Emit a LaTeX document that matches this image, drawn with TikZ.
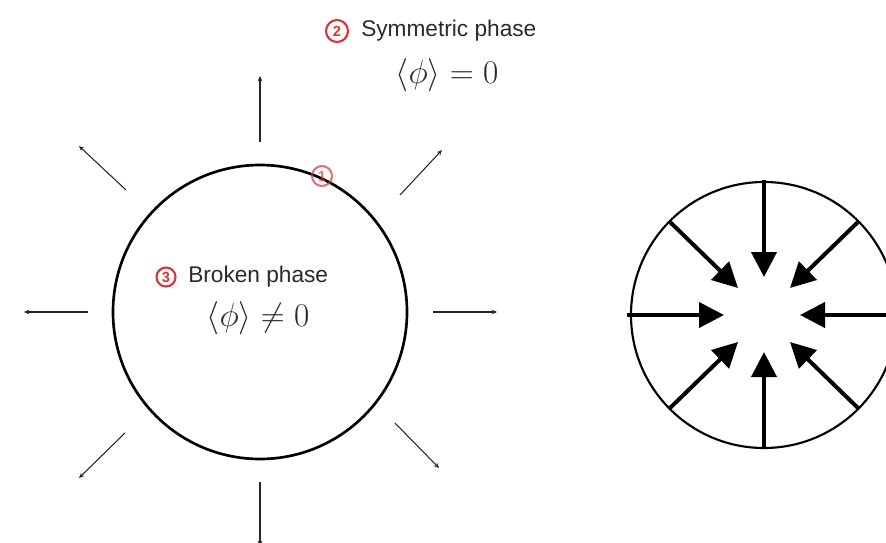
\documentclass[tikz,border=0pt]{standalone}
\usepackage{fontspec}
\newfontfamily\sansjp{Liberation Sans}
\usetikzlibrary{arrows.meta}
\definecolor{numred}{HTML}{D8343A}
\definecolor{txt}{HTML}{2A2A2A}
\begin{document}
\begin{tikzpicture}[x=0.75pt,y=-0.75pt,
  thinarrow/.style={line width=0.8pt, draw=black!85, -{Stealth[length=4pt,width=3.5pt]}},
  thickarrow/.style={line width=3pt, -{Triangle[length=18.75pt,width=18.75pt]}},
  numcirc/.style={circle, draw=numred, line width=1.6pt, text=numred, inner sep=0pt, minimum size=#1, font=\sansjp\bfseries\fontsize{11}{12}\selectfont},
  label/.style={text=txt, font=\sansjp\fontsize{17}{20}\selectfont, inner sep=0pt, anchor=west},
  mathlbl/.style={text=txt, font=\fontsize{23}{28}\selectfont, inner sep=0pt}
]
\useasboundingbox (0,0) rectangle (886,543);
\clip (0,0) rectangle (886,543);

% left circle
\node (c1) [circle, draw, line width=2pt, minimum size=294*0.75pt, inner sep=0pt] at (260,312) {};

% outward arrows
\coordinate (u0) at (260,142); \coordinate (u1) at (260,76);
\coordinate (l0) at (88,312);  \coordinate (l1) at (24,312);
\coordinate (r0) at (433,312); \coordinate (r1) at (497,312);
\coordinate (d0) at (260,482); \coordinate (d1) at (260,546);
\coordinate (ul0) at (126,190); \coordinate (ul1) at (79,146);
\coordinate (ur0) at (400,195); \coordinate (ur1) at (442,150);
\coordinate (ll0) at (125,433); \coordinate (ll1) at (79,478);
\coordinate (lr0) at (395,423); \coordinate (lr1) at (439,468);
\foreach \a in {u,l,r,d,ul,ur,ll,lr} \draw[thinarrow] (\a0) -- (\a1);

% labels
\node (n2) [numcirc=22*0.75pt] at (337,31) {2};
\node (sym) [label] at (361,31) {Symmetric phase};
\node (m0) [mathlbl] at (447,75) {$\langle\phi\rangle = 0$};
\node (n1) [numcirc=20*0.75pt, draw opacity=0.7, text opacity=0.7] at (322,176) {1};
\node (n3) [numcirc=19*0.75pt] at (166,277) {3};
\node (brk) [label] at (188,277) {Broken phase};
\node (m1) [mathlbl] at (258,318) {$\langle\phi\rangle \neq 0$};

% right circle
\node (c2) [circle, draw, line width=1.6pt, minimum size=266*0.75pt, inner sep=0pt] at (764,315) {};
\coordinate (t0) at (764,180); \coordinate (t1) at (764,277);
\coordinate (b0) at (764,449); \coordinate (b1) at (764,352);
\coordinate (h0) at (627,315); \coordinate (h1) at (724,315);
\coordinate (k0) at (890,315); \coordinate (k1) at (800,315);
\coordinate (p0) at (670,222); \coordinate (p1) at (738,288);
\coordinate (q0) at (858,222); \coordinate (q1) at (790,288);
\coordinate (s0) at (670,408); \coordinate (s1) at (738,342);
\coordinate (w0) at (858,408); \coordinate (w1) at (790,342);
\foreach \a in {t,b,h,k,p,q,s,w} \draw[thickarrow] (\a0) -- (\a1);
\end{tikzpicture}
\end{document}
